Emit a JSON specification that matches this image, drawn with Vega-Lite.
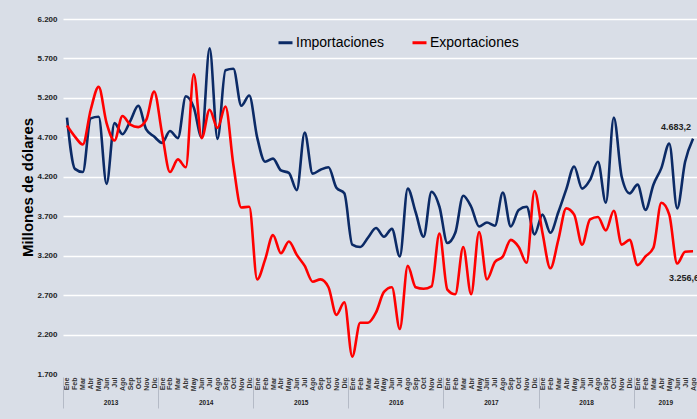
{
  "$schema": "https://vega.github.io/schema/vega-lite/v6.json",
  "width": 634,
  "height": 355,
  "autosize": {"type": "none"},
  "padding": {"left": 63, "top": 19, "right": 0, "bottom": 45},
  "background": "#d9dee7",
  "config": {"view": {"stroke": null}, "font": "Liberation Sans"},
  "datasets": {
    "serie": [
      {"fecha": "2013-01", "Importaciones": 4950, "Exportaciones": 4850},
      {"fecha": "2013-02", "Importaciones": 4300, "Exportaciones": 4710},
      {"fecha": "2013-03", "Importaciones": 4260, "Exportaciones": 4610},
      {"fecha": "2013-04", "Importaciones": 4940, "Exportaciones": 5050},
      {"fecha": "2013-05", "Importaciones": 4960, "Exportaciones": 5340},
      {"fecha": "2013-06", "Importaciones": 4110, "Exportaciones": 4880},
      {"fecha": "2013-07", "Importaciones": 4880, "Exportaciones": 4660},
      {"fecha": "2013-08", "Importaciones": 4740, "Exportaciones": 4970},
      {"fecha": "2013-09", "Importaciones": 4910, "Exportaciones": 4860},
      {"fecha": "2013-10", "Importaciones": 5100, "Exportaciones": 4830},
      {"fecha": "2013-11", "Importaciones": 4800, "Exportaciones": 4920},
      {"fecha": "2013-12", "Importaciones": 4710, "Exportaciones": 5280},
      {"fecha": "2014-01", "Importaciones": 4630, "Exportaciones": 4750},
      {"fecha": "2014-02", "Importaciones": 4780, "Exportaciones": 4260},
      {"fecha": "2014-03", "Importaciones": 4690, "Exportaciones": 4420},
      {"fecha": "2014-04", "Importaciones": 5220, "Exportaciones": 4320},
      {"fecha": "2014-05", "Importaciones": 5080, "Exportaciones": 5500},
      {"fecha": "2014-06", "Importaciones": 4700, "Exportaciones": 4690},
      {"fecha": "2014-07", "Importaciones": 5830, "Exportaciones": 5050},
      {"fecha": "2014-08", "Importaciones": 4680, "Exportaciones": 4820},
      {"fecha": "2014-09", "Importaciones": 5550, "Exportaciones": 5090},
      {"fecha": "2014-10", "Importaciones": 5570, "Exportaciones": 4350},
      {"fecha": "2014-11", "Importaciones": 5100, "Exportaciones": 3810},
      {"fecha": "2014-12", "Importaciones": 5230, "Exportaciones": 3820},
      {"fecha": "2015-01", "Importaciones": 4700, "Exportaciones": 2900},
      {"fecha": "2015-02", "Importaciones": 4390, "Exportaciones": 3150},
      {"fecha": "2015-03", "Importaciones": 4430, "Exportaciones": 3460},
      {"fecha": "2015-04", "Importaciones": 4280, "Exportaciones": 3230},
      {"fecha": "2015-05", "Importaciones": 4250, "Exportaciones": 3380},
      {"fecha": "2015-06", "Importaciones": 4030, "Exportaciones": 3210},
      {"fecha": "2015-07", "Importaciones": 4760, "Exportaciones": 3070},
      {"fecha": "2015-08", "Importaciones": 4240, "Exportaciones": 2870},
      {"fecha": "2015-09", "Importaciones": 4290, "Exportaciones": 2900},
      {"fecha": "2015-10", "Importaciones": 4320, "Exportaciones": 2800},
      {"fecha": "2015-11", "Importaciones": 4060, "Exportaciones": 2450},
      {"fecha": "2015-12", "Importaciones": 3990, "Exportaciones": 2610},
      {"fecha": "2016-01", "Importaciones": 3340, "Exportaciones": 1920},
      {"fecha": "2016-02", "Importaciones": 3310, "Exportaciones": 2350},
      {"fecha": "2016-03", "Importaciones": 3430, "Exportaciones": 2350},
      {"fecha": "2016-04", "Importaciones": 3550, "Exportaciones": 2480},
      {"fecha": "2016-05", "Importaciones": 3440, "Exportaciones": 2740},
      {"fecha": "2016-06", "Importaciones": 3540, "Exportaciones": 2800},
      {"fecha": "2016-07", "Importaciones": 3190, "Exportaciones": 2270},
      {"fecha": "2016-08", "Importaciones": 4050, "Exportaciones": 3070},
      {"fecha": "2016-09", "Importaciones": 3750, "Exportaciones": 2800},
      {"fecha": "2016-10", "Importaciones": 3440, "Exportaciones": 2780},
      {"fecha": "2016-11", "Importaciones": 4010, "Exportaciones": 2810},
      {"fecha": "2016-12", "Importaciones": 3820, "Exportaciones": 3480},
      {"fecha": "2017-01", "Importaciones": 3360, "Exportaciones": 2770},
      {"fecha": "2017-02", "Importaciones": 3490, "Exportaciones": 2710},
      {"fecha": "2017-03", "Importaciones": 3960, "Exportaciones": 3310},
      {"fecha": "2017-04", "Importaciones": 3820, "Exportaciones": 2710},
      {"fecha": "2017-05", "Importaciones": 3570, "Exportaciones": 3500},
      {"fecha": "2017-06", "Importaciones": 3620, "Exportaciones": 2900},
      {"fecha": "2017-07", "Importaciones": 3580, "Exportaciones": 3120},
      {"fecha": "2017-08", "Importaciones": 4000, "Exportaciones": 3190},
      {"fecha": "2017-09", "Importaciones": 3570, "Exportaciones": 3400},
      {"fecha": "2017-10", "Importaciones": 3780, "Exportaciones": 3310},
      {"fecha": "2017-11", "Importaciones": 3820, "Exportaciones": 3110},
      {"fecha": "2017-12", "Importaciones": 3470, "Exportaciones": 4020},
      {"fecha": "2018-01", "Importaciones": 3720, "Exportaciones": 3490},
      {"fecha": "2018-02", "Importaciones": 3490, "Exportaciones": 3040},
      {"fecha": "2018-03", "Importaciones": 3750, "Exportaciones": 3400},
      {"fecha": "2018-04", "Importaciones": 4040, "Exportaciones": 3800},
      {"fecha": "2018-05", "Importaciones": 4330, "Exportaciones": 3720},
      {"fecha": "2018-06", "Importaciones": 4050, "Exportaciones": 3340},
      {"fecha": "2018-07", "Importaciones": 4160, "Exportaciones": 3660},
      {"fecha": "2018-08", "Importaciones": 4390, "Exportaciones": 3690},
      {"fecha": "2018-09", "Importaciones": 3870, "Exportaciones": 3520},
      {"fecha": "2018-10", "Importaciones": 4950, "Exportaciones": 3770},
      {"fecha": "2018-11", "Importaciones": 4200, "Exportaciones": 3340},
      {"fecha": "2018-12", "Importaciones": 3990, "Exportaciones": 3400},
      {"fecha": "2019-01", "Importaciones": 4100, "Exportaciones": 3080},
      {"fecha": "2019-02", "Importaciones": 3780, "Exportaciones": 3190},
      {"fecha": "2019-03", "Importaciones": 4100, "Exportaciones": 3300},
      {"fecha": "2019-04", "Importaciones": 4310, "Exportaciones": 3870},
      {"fecha": "2019-05", "Importaciones": 4620, "Exportaciones": 3720},
      {"fecha": "2019-06", "Importaciones": 3800, "Exportaciones": 3100},
      {"fecha": "2019-07", "Importaciones": 4390, "Exportaciones": 3250},
      {"fecha": "2019-08", "Importaciones": 4683.2, "Exportaciones": 3256.6}
    ],
    "etiquetas": [
      {"fecha": "2019-08", "serie": "Importaciones", "valor": 4683.2, "texto": "4.683,2"},
      {"fecha": "2019-08", "serie": "Exportaciones", "valor": 3256.6, "texto": "3.256,6"}
    ]
  },
  "data": {"name": "serie"},
  "transform": [{"fold": ["Importaciones", "Exportaciones"], "as": ["serie", "valor"]}],
  "layer": [
    {
      "mark": {"type": "line", "interpolate": "monotone", "strokeWidth": 2.6},
      "encoding": {
        "x": {
          "field": "fecha", "type": "ordinal",
          "axis": {
            "orient": "bottom", "title": null, "domain": false, "ticks": false, "tickSize": 0,
            "labelAngle": 270, "labelAlign": "right", "labelBaseline": "middle", "labelPadding": 3,
            "labelFontSize": 7, "labelFontWeight": "bold", "labelColor": "#333333", "labelOverlap": false,
            "labelBound": false, "labelFlush": false,
            "labelExpr": "['Ene','Feb','Mar','Abr','May','Jun','Jul','Ago','Sep','Oct','Nov','Dic'][toNumber(slice(datum.value,5,7))-1]"
          }
        },
        "y": {
          "field": "valor", "type": "quantitative",
          "scale": {"domain": [1700, 6200], "nice": false, "zero": false},
          "axis": {
            "values": [1700, 2200, 2700, 3200, 3700, 4200, 4700, 5200, 5700, 6200],
            "tickCount": 20, "labelOverlap": false,
            "labelExpr": "replace(format(datum.value, ','), ',', '.')",
            "domain": false, "ticks": false, "labelPadding": 6,
            "labelFontSize": 8, "labelFontWeight": "bold", "labelColor": "#222222",
            "grid": true, "gridColor": "#ffffff", "gridWidth": 1.5,
            "gridOpacity": {"condition": {"test": "datum.value == 1700", "value": 0}, "value": 1},
            "title": "Millones de dólares", "titleFontSize": 15, "titleFontWeight": "bold", "titleColor": "#000000",
            "titleAngle": 270, "titleAlign": "center", "titleBaseline": "middle", "titleX": -36, "titleY": 168
          }
        },
        "color": {
          "field": "serie", "type": "nominal",
          "scale": {"domain": ["Importaciones", "Exportaciones"], "range": ["#0b2a66", "#ff0000"]},
          "legend": {
            "title": null, "orient": "none", "direction": "horizontal", "legendX": 214, "legendY": 15,
            "symbolType": "stroke", "symbolStrokeWidth": 3, "symbolSize": 196,
            "labelFontSize": 14, "labelColor": "#000000", "labelOffset": 2, "columnPadding": 22, "padding": 0
          }
        }
      }
    },
    {
      "mark": {"type": "line", "opacity": 0},
      "encoding": {
        "x": {
          "field": "fecha", "type": "ordinal",
          "axis": {
            "orient": "bottom", "title": null, "domain": false, "labels": false, "offset": 3,
            "values": ["2013-01", "2014-01", "2015-01", "2016-01", "2017-01", "2018-01", "2019-01"],
            "ticks": true, "tickSize": 31, "tickOffset": -3.96, "tickColor": "#b4bac6", "tickWidth": 1
          }
        },
        "y": {"field": "valor", "type": "quantitative"},
        "detail": {"field": "serie"}
      }
    },
    {
      "mark": {"type": "line", "opacity": 0},
      "encoding": {
        "x": {
          "field": "fecha", "type": "ordinal",
          "axis": {
            "orient": "bottom", "title": null, "domain": false, "ticks": false, "tickSize": 0,
            "values": ["2013-06", "2014-06", "2015-06", "2016-06", "2017-06", "2018-06", "2019-04"],
            "labelExpr": "slice(datum.value,0,4)", "labelOffset": 3.96, "labelAngle": 0,
            "labelAlign": "center", "labelBaseline": "top", "labelPadding": 25,
            "labelFontSize": 6.5, "labelFontWeight": "bold", "labelColor": "#222222", "labelOverlap": false
          }
        },
        "y": {"field": "valor", "type": "quantitative"},
        "detail": {"field": "serie"}
      }
    },
    {
      "data": {"name": "etiquetas"},
      "transform": [{"filter": "datum.serie == 'Importaciones'"}],
      "mark": {"type": "text", "fontSize": 9, "fontWeight": "bold", "color": "#222222", "dx": -17, "dy": -12},
      "encoding": {
        "x": {"field": "fecha", "type": "ordinal", "axis": null},
        "y": {"field": "valor", "type": "quantitative"},
        "text": {"field": "texto"}
      }
    },
    {
      "data": {"name": "etiquetas"},
      "transform": [{"filter": "datum.serie == 'Exportaciones'"}],
      "mark": {"type": "text", "fontSize": 9, "fontWeight": "bold", "color": "#222222", "dx": -9, "dy": 27},
      "encoding": {
        "x": {"field": "fecha", "type": "ordinal", "axis": null},
        "y": {"field": "valor", "type": "quantitative"},
        "text": {"field": "texto"}
      }
    }
  ],
  "resolve": {"axis": {"x": "independent"}}
}
